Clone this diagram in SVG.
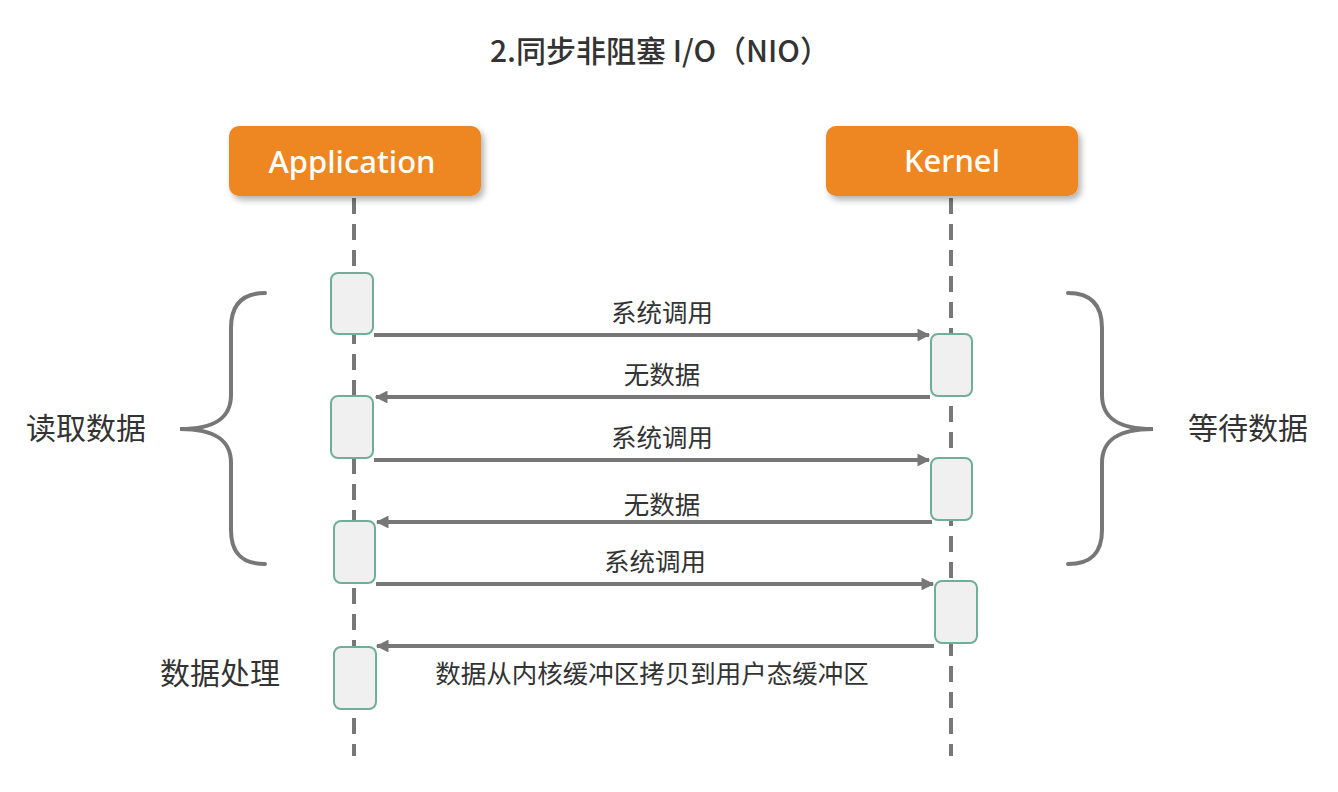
<svg xmlns="http://www.w3.org/2000/svg" width="1338" height="792" viewBox="0 0 1338 792">
<style>
.cjk{font-family:"Noto Sans CJK SC","Noto Sans",sans-serif;fill:#333}
.title{font-size:30px;font-weight:500}
.lbl{font-size:25.5px}
.side{font-size:30px}
.hdr{font-family:"Noto Sans","Open Sans",sans-serif;font-size:31px;font-weight:500;fill:#fff}
.life{stroke:#777;stroke-width:4;stroke-dasharray:16 10;fill:none}
.act{fill:#F0F0F0;stroke:#6FAE9A;stroke-width:2}
.msg{stroke:#777;stroke-width:4;fill:none}
.brace{stroke:#777;stroke-width:4;fill:none;stroke-linecap:round}
</style>
<defs>
<marker id="ah" viewBox="0 0 10 10" refX="9" refY="5" markerWidth="4" markerHeight="3.2" orient="auto" markerUnits="strokeWidth">
<path d="M0,0 L10,5 L0,10 z" fill="#777"/>
</marker>
<filter id="sh" x="-10%" y="-20%" width="125%" height="150%">
<feDropShadow dx="3" dy="4" stdDeviation="3" flood-color="#000" flood-opacity="0.3"/>
</filter>
</defs>
<rect width="1338" height="792" fill="#fff"/>
<text class="cjk title" x="660" y="62" text-anchor="middle">2.同步非阻塞 I/O（NIO）</text>

<g id="lifelines">
<line class="life" x1="354" y1="198" x2="354" y2="756"/>
<line class="life" x1="951" y1="198" x2="951" y2="756"/>
</g>

<g id="application">
<rect x="229" y="126" width="252" height="70" rx="10" fill="#EE8621" filter="url(#sh)"/>
<text class="hdr" x="352" y="173" text-anchor="middle">Application</text>
</g>
<g id="kernel">
<rect x="826" y="126" width="252" height="70" rx="10" fill="#EE8621" filter="url(#sh)"/>
<text class="hdr" x="952" y="172" text-anchor="middle">Kernel</text>
</g>

<g id="app-activations">
<rect class="act" x="331" y="273" width="42" height="61" rx="7"/>
<rect class="act" x="331" y="396" width="42" height="62" rx="7"/>
<rect class="act" x="334" y="521" width="41" height="62" rx="7"/>
<rect class="act" x="334" y="647" width="42" height="62" rx="7"/>
</g>
<g id="kernel-activations">
<rect class="act" x="931" y="334" width="41" height="62" rx="7"/>
<rect class="act" x="931" y="458" width="41" height="62" rx="7"/>
<rect class="act" x="935" y="581" width="42" height="62" rx="7"/>
</g>

<g id="connectors">
<line class="msg" x1="374" y1="335" x2="929" y2="335" marker-end="url(#ah)"/>
<line class="msg" x1="930" y1="397" x2="376" y2="397" marker-end="url(#ah)"/>
<line class="msg" x1="374" y1="460" x2="929" y2="460" marker-end="url(#ah)"/>
<line class="msg" x1="932" y1="522" x2="377" y2="522" marker-end="url(#ah)"/>
<line class="msg" x1="376" y1="584" x2="933" y2="584" marker-end="url(#ah)"/>
<line class="msg" x1="934" y1="646" x2="377" y2="646" marker-end="url(#ah)"/>
</g>

<g id="labels">
<text class="cjk lbl" x="662" y="322" text-anchor="middle">系统调用</text>
<text class="cjk lbl" x="662" y="384" text-anchor="middle">无数据</text>
<text class="cjk lbl" x="662" y="447" text-anchor="middle">系统调用</text>
<text class="cjk lbl" x="662" y="514" text-anchor="middle">无数据</text>
<text class="cjk lbl" x="655" y="571" text-anchor="middle">系统调用</text>
<text class="cjk lbl" x="652" y="683" text-anchor="middle">数据从内核缓冲区拷贝到用户态缓冲区</text>
</g>

<g id="read-brace">
<path class="brace" d="M265,293 C242,293 231,305 231,328 L231,395 C231,418 215,429 180,429 C215,429 231,440 231,463 L231,530 C231,553 242,564 265,564"/>
<text class="cjk side" x="86" y="439" text-anchor="middle">读取数据</text>
</g>
<g id="wait-brace">
<path class="brace" d="M1068,293 C1091,293 1102,305 1102,328 L1102,395 C1102,418 1118,429 1153,429 C1118,429 1102,440 1102,463 L1102,530 C1102,553 1091,564 1068,564"/>
<text class="cjk side" x="1248" y="439" text-anchor="middle">等待数据</text>
</g>
<g id="process">
<text class="cjk side" x="220" y="684" text-anchor="middle">数据处理</text>
</g>
</svg>
